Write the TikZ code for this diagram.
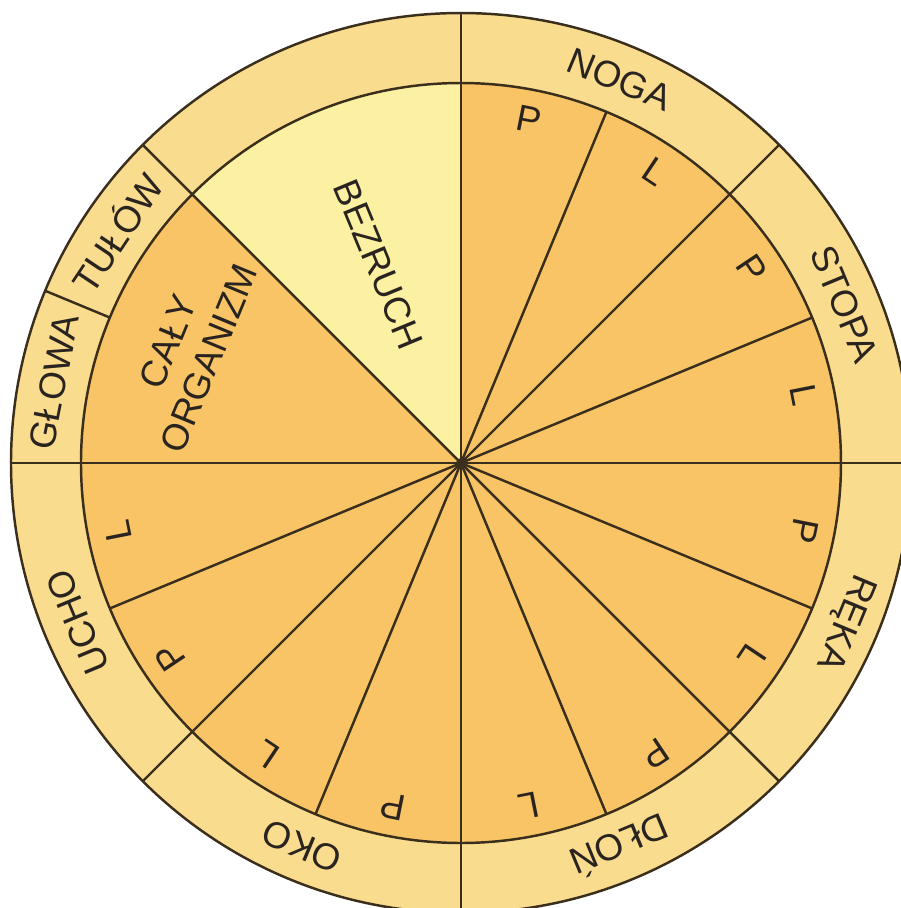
\documentclass[tikz,border=0pt]{standalone}
\usepackage{fontspec}
\setmainfont{Liberation Sans}
\usetikzlibrary{arrows.meta, positioning, calc}

\definecolor{ringfill}{HTML}{FADC8E}
\definecolor{sectorfill}{HTML}{F8C466}
\definecolor{restfill}{HTML}{FCF1A2}
\definecolor{linecol}{HTML}{3A2E1C}
\definecolor{textcol}{HTML}{2A2420}

\begin{document}
\begin{tikzpicture}[
        line width=0.7pt,
        ringlabel/.style={
            font=\fontsize{10.5}{12.5}\selectfont,
            text=textcol,
            inner sep=0pt
        },
        sidelabel/.style={
            font=\fontsize{10.5}{12.5}\selectfont,
            text=textcol,
            inner sep=0pt
        },
        biglabel/.style={
            font=\fontsize{10.5}{12.5}\selectfont,
            text=textcol,
            align=center,
            inner sep=0pt
        }
    ]

    \useasboundingbox (-4.61,-4.45) rectangle (4.40,4.63);

    % tarcza: pierscien, sektory i bezruch
    \fill[ringfill] (0,0) circle (4.5);
    \fill[sectorfill] (0,0) circle (3.8);
    \fill[restfill] (0,0) -- (90:3.8) arc (90:135:3.8) -- cycle;
    \draw[linecol] (0,0) circle (4.5);
    \draw[linecol] (0,0) circle (3.8);

    % promienie
    \foreach \a in {0,45,...,315}
        \draw[linecol] (0,0) -- (\a:4.5);
    \foreach \a in {22.5,67.5,202.5,247.5,292.5,337.5}
        \draw[linecol] (0,0) -- (\a:3.8);
    \draw[linecol] (157.5:3.8) -- (157.5:4.5);
    \fill[linecol] (0,0) circle (0.05);

    % napisy na pierscieniu
    \foreach \name/\a [count=\i] in {NOGA/67.5, STOPA/22.5, RĘKA/-22.5,
            DŁOŃ/-67.5, OKO/-112.5, UCHO/-157.5, TUŁÓW/146.25, GŁOWA/168.75}
        \node[ringlabel, rotate=\a-90] (ring\i) at (\a:4.15) {\name};

    % strony P i L
    \foreach \a [count=\i] in {78.75,33.75,-11.25,-56.25,-101.25,-146.25} {
        \node[sidelabel, rotate=\a-90] (p\i) at (\a:3.5) {P};
        \node[sidelabel, rotate=\a-112.5] (l\i) at (\a-22.5:3.5) {L};
    }

    \node[biglabel, rotate=67.5] (whole) at (157.5:2.95) {CAŁY\\ORGANIZM};
    \node[biglabel, rotate=-67.5] (still) at (112.5:2.15) {BEZRUCH};

\end{tikzpicture}
\end{document}
